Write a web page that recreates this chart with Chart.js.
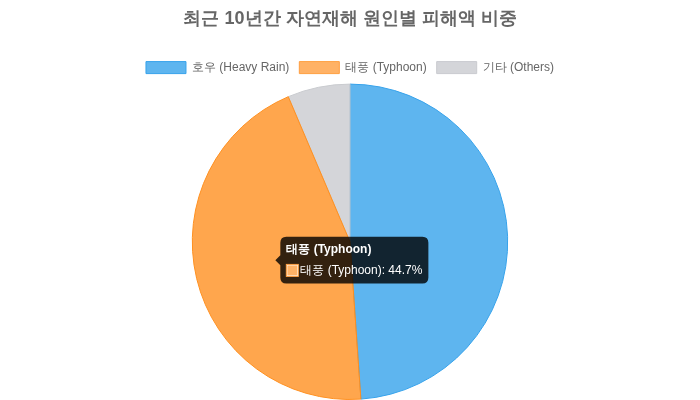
<!DOCTYPE html>
<html>
<head>
<meta charset="utf-8">
<script src="https://cdn.jsdelivr.net/npm/chart.js@4"></script>
<style>
  html, body { margin: 0; padding: 0; background: #fff; }
  #wrap { width: 700px; height: 400px; }
</style>
</head>
<body>
<div id="wrap"><canvas id="chart"></canvas></div>
<script>
const labels = ['호우 (Heavy Rain)', '태풍 (Typhoon)', '기타 (Others)'];
const shares = [48.9, 44.7, 6.4];
const fills = ['rgba(54, 162, 235, 0.8)', 'rgba(255, 159, 64, 0.8)', 'rgba(201, 203, 207, 0.8)'];
const borders = ['rgba(54, 162, 235, 1)', 'rgba(255, 159, 64, 1)', 'rgba(201, 203, 207, 1)'];

Chart.defaults.font.family = "'Helvetica Neue', Helvetica, Arial, sans-serif";

const chart = new Chart(document.getElementById('chart'), {
  type: 'pie',
  data: {
    labels: labels,
    datasets: [{
      data: shares,
      backgroundColor: fills,
      borderColor: borders,
      borderWidth: 1
    }]
  },
  options: {
    responsive: true,
    maintainAspectRatio: false,
    animation: false,
    plugins: {
      title: {
        display: true,
        text: '최근 10년간 자연재해 원인별 피해액 비중',
        font: { size: 18, weight: 'bold' },
        color: '#666',
        padding: { top: 8, bottom: 22 }
      },
      legend: {
        position: 'top',
        labels: { color: '#666' }
      },
      tooltip: {
        callbacks: {
          label: ctx => `${ctx.label}: ${ctx.parsed}%`
        }
      }
    }
  }
});

// typhoon slice shown as hovered, with its tooltip
const idx = 1;
const el = chart.getDatasetMeta(0).data[idx];
chart.setActiveElements([{ datasetIndex: 0, index: idx }]);
chart.tooltip.setActiveElements([{ datasetIndex: 0, index: idx }], el.tooltipPosition());
chart.update();
</script>
</body>
</html>
